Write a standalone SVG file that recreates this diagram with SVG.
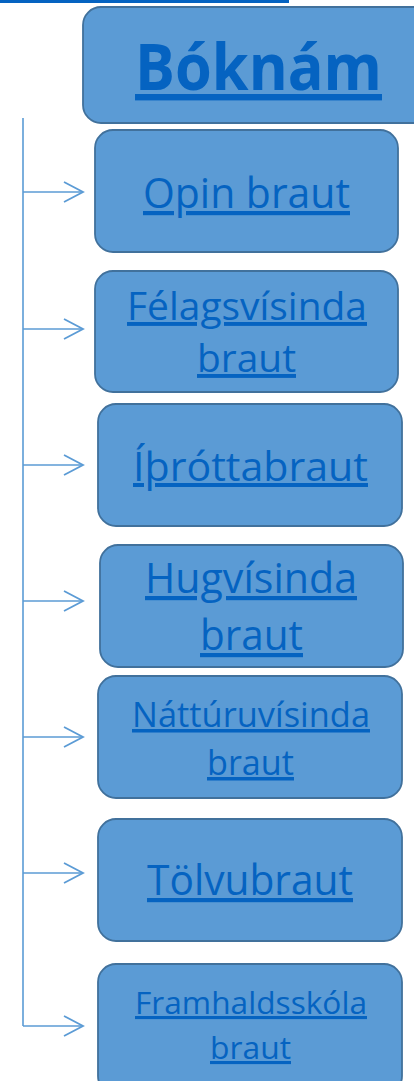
<svg xmlns="http://www.w3.org/2000/svg" width="414" height="1081" viewBox="0 0 414 1081">
<defs>
<style>
.box{fill:#5B9BD5;stroke:#41719C;stroke-width:1.8}
.t{font-family:"Open Sans","Noto Sans",sans-serif;fill:#0563C1;text-anchor:middle;text-decoration:underline}
.c{stroke:#5B9BD5;stroke-width:1.6;fill:none}
</style>
<marker id="ah" markerUnits="userSpaceOnUse" markerWidth="24" markerHeight="24" refX="20" refY="11" orient="auto" viewBox="0 0 24 22">
<path d="M1,1 L20,11 L1,21" fill="none" stroke="#5B9BD5" stroke-width="1.8"/>
</marker>
</defs>
<rect x="0" y="0" width="289" height="3" fill="#0563C1"/>
<g id="connectors">
<line class="c" x1="23" y1="118" x2="23" y2="1026"/>
<line class="c" x1="23" y1="192" x2="83" y2="192" marker-end="url(#ah)"/>
<line class="c" x1="23" y1="329" x2="83" y2="329" marker-end="url(#ah)"/>
<line class="c" x1="23" y1="465" x2="83" y2="465" marker-end="url(#ah)"/>
<line class="c" x1="23" y1="601" x2="83" y2="601" marker-end="url(#ah)"/>
<line class="c" x1="23" y1="737" x2="83" y2="737" marker-end="url(#ah)"/>
<line class="c" x1="23" y1="873" x2="83" y2="873" marker-end="url(#ah)"/>
<line class="c" x1="23" y1="1026" x2="83" y2="1026" marker-end="url(#ah)"/>
</g>
<g id="boknam">
<rect class="box" x="83" y="7" width="350" height="116" rx="18"/>
<text class="t" x="258.5" y="90" font-size="64" font-weight="bold" textLength="247" lengthAdjust="spacingAndGlyphs">Bóknám</text>
</g>
<g id="opin">
<rect class="box" x="95" y="130" width="303" height="122" rx="18"/>
<text class="t" x="246.5" y="208" font-size="42" textLength="207" lengthAdjust="spacingAndGlyphs">Opin braut</text>
</g>
<g id="felags">
<rect class="box" x="95" y="271" width="303" height="121" rx="18"/>
<text class="t" x="247" y="320" font-size="39" textLength="240" lengthAdjust="spacingAndGlyphs">Félagsvísinda</text>
<text class="t" x="246.5" y="372" font-size="39" textLength="99" lengthAdjust="spacingAndGlyphs">braut</text>
</g>
<g id="ithrotta">
<rect class="box" x="98" y="404" width="304" height="122" rx="18"/>
<text class="t" x="250.5" y="481" font-size="40" textLength="235" lengthAdjust="spacingAndGlyphs">Íþróttabraut</text>
</g>
<g id="hugvisinda">
<rect class="box" x="100" y="545" width="303" height="122" rx="18"/>
<text class="t" x="251" y="593" font-size="42" textLength="212" lengthAdjust="spacingAndGlyphs">Hugvísinda</text>
<text class="t" x="251.5" y="650" font-size="42" textLength="103" lengthAdjust="spacingAndGlyphs">braut</text>
</g>
<g id="natturu">
<rect class="box" x="98" y="676" width="304" height="122" rx="18"/>
<text class="t" x="251" y="727" font-size="35" textLength="238" lengthAdjust="spacingAndGlyphs">Náttúruvísinda</text>
<text class="t" x="250.5" y="775" font-size="35" textLength="87" lengthAdjust="spacingAndGlyphs">braut</text>
</g>
<g id="tolvu">
<rect class="box" x="98" y="819" width="304" height="122" rx="18"/>
<text class="t" x="250" y="895" font-size="42" textLength="206" lengthAdjust="spacingAndGlyphs">Tölvubraut</text>
</g>
<g id="framhald">
<rect class="box" x="98" y="964" width="304" height="130" rx="18"/>
<text class="t" x="251" y="1014" font-size="31" textLength="232" lengthAdjust="spacingAndGlyphs">Framhaldsskóla</text>
<text class="t" x="250.5" y="1059" font-size="31" textLength="81" lengthAdjust="spacingAndGlyphs">braut</text>
</g>
</svg>
